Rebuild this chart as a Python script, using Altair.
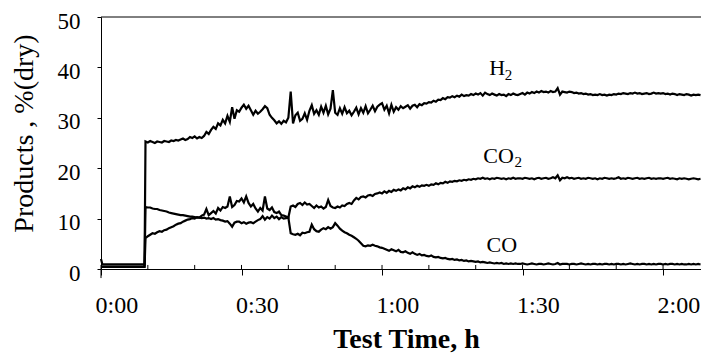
import altair as alt
import pandas as pd

# ---- data (time in minutes, values in % dry) ----
X_MAX = 128.1
T_PRE = [0.0, 0.3, 3.0, 6.0, 9.3]
H2_PRE = [2.0, 0.9, 0.9, 0.9, 0.9]
CO2_PRE = [0.4, 0.4, 0.4, 0.4, 0.4]
CO_PRE = [0.5, 0.5, 0.5, 0.5, 0.5]
T_START = 9.5
T_STEP = 0.5

H2_MAIN = [
    25.3, 25.1, 25.4, 25.2, 25.0, 25.3, 25.2, 25.1, 25.4, 25.3, 25.2, 25.5, 25.4, 25.6, 25.5, 25.7, 25.9, 25.6, 25.8, 26.2,
    26.0, 26.3, 25.9, 26.2, 26.0, 26.4, 27.2, 26.8, 27.6, 28.2, 27.8, 28.9, 28.5, 29.6, 28.9, 30.4, 29.2, 32.1, 29.8, 31.5,
    31.2, 32.0, 32.6, 31.8, 32.4, 31.5, 30.6, 31.4, 30.8, 31.2, 31.7, 32.3, 31.9, 30.6, 30.0, 29.5, 28.9, 29.3, 28.8, 29.4,
    29.1, 30.0, 35.2, 28.9, 30.5, 31.0, 29.4, 29.8, 30.9, 29.6, 31.4, 32.5, 30.8, 31.5, 30.6, 32.2, 31.0, 32.4, 30.7, 31.8,
    35.5, 31.0, 30.6, 31.9, 30.8, 32.1, 30.9, 31.4, 30.5, 31.2, 32.0, 30.7, 31.9, 31.0, 32.3, 30.9, 31.6, 32.4, 31.3, 32.2,
    32.6, 32.9, 31.6, 32.4, 30.9, 32.6, 31.2, 32.1, 31.6, 32.3, 31.9, 32.2, 32.5, 31.8, 32.4, 32.6, 32.1, 32.7, 32.5, 32.9,
    32.8, 33.1, 33.0, 33.4, 33.2, 33.6, 33.5, 33.9, 33.7, 34.1, 34.0, 34.3, 34.1, 34.4, 34.2, 34.6, 34.3, 34.5, 34.4, 34.7,
    34.5, 34.8, 34.6, 34.9, 34.4, 35.0, 34.7, 34.5, 34.8, 34.6, 34.4, 34.7, 34.5, 34.6, 34.3, 34.7, 34.5, 34.8, 34.6, 34.5,
    34.7, 34.9, 34.6, 35.0, 34.8, 35.1, 34.9, 35.2, 35.0, 35.3, 35.1, 35.2, 35.0, 35.3, 35.1, 35.2, 35.9, 34.6, 35.2, 35.1,
    35.0, 35.2, 35.1, 34.9, 35.0, 34.8, 34.9, 34.7, 34.8, 34.6, 34.7, 34.5, 34.6, 34.5, 34.7, 34.5, 34.6, 34.4, 34.6, 34.5,
    34.7, 34.6, 34.8, 34.7, 34.9, 34.8, 34.7, 34.9, 34.8, 35.0, 34.8, 34.9, 34.7, 34.8, 34.9, 34.7, 34.8, 35.0, 34.8, 34.9,
    34.8, 34.9, 34.7, 34.8, 34.6, 34.8, 34.7, 34.5, 34.7, 34.6, 34.5, 34.7, 34.6, 34.4, 34.6, 34.5, 34.6, 34.5,
]

CO2_MAIN = [
    6.1, 6.5, 6.8, 7.1, 7.0, 7.3, 7.5, 7.4, 7.7, 7.8, 8.1, 8.3, 8.5, 8.8, 9.0, 9.1, 9.4, 9.6, 9.8, 9.9,
    10.1, 10.0, 10.3, 10.2, 10.6, 10.8, 11.9, 10.7, 11.1, 11.5, 11.0, 12.1, 11.6, 12.3, 12.1, 12.4, 14.4, 12.3, 12.7, 13.5,
    13.4, 14.0, 13.2, 14.4, 13.1, 12.4, 12.9, 12.0, 11.4, 12.1, 11.6, 14.4, 12.0, 11.7, 12.2, 11.3, 11.1, 11.4, 10.7, 10.6,
    10.4, 10.2, 12.4, 12.6, 12.3, 12.9, 13.1, 12.7, 13.2, 12.8, 12.9, 12.5, 12.1, 12.6, 12.2, 12.4, 12.0, 12.3, 13.7, 12.5,
    12.2, 12.1, 12.4, 12.2, 12.6, 12.5, 12.9, 13.1, 12.9, 13.6, 14.1, 13.8, 14.3, 14.4, 14.2, 14.6, 14.7, 14.5, 14.9, 15.0,
    15.2, 15.0, 15.4, 15.1, 15.5, 15.3, 15.7, 15.5, 15.8, 15.6, 16.0, 15.8, 16.2, 16.0, 16.4, 16.2, 16.5, 16.3, 16.6, 16.5,
    16.7, 16.5, 16.8, 16.7, 17.0, 16.8, 17.1, 17.0, 17.3, 17.1, 17.4, 17.3, 17.5, 17.4, 17.6, 17.5, 17.7, 17.6, 17.8, 17.7,
    17.9, 17.8, 18.0, 17.9, 18.1, 17.9, 18.0, 17.8, 18.0, 17.9, 18.1, 18.0, 17.9, 18.0, 17.8, 18.0, 17.9, 18.1, 17.9, 18.0,
    18.0, 17.9, 18.1, 18.0, 17.9, 18.0, 17.8, 18.0, 18.1, 17.9, 18.0, 18.1, 17.9, 18.0, 18.2, 18.0, 18.6, 17.6, 18.1, 18.0,
    18.2, 18.0, 18.1, 17.9, 18.0, 18.1, 17.9, 18.0, 17.9, 18.1, 18.0, 17.9, 18.0, 17.8, 18.0, 17.9, 18.1, 18.0, 17.9, 18.0,
    17.9, 18.0, 18.2, 17.9, 18.0, 17.9, 18.1, 18.0, 17.9, 18.0, 18.1, 17.9, 18.0, 17.9, 18.0, 18.1, 17.9, 18.0, 17.9, 18.0,
    18.0, 17.9, 18.0, 18.1, 17.9, 18.0, 17.9, 17.8, 18.0, 17.9, 18.0, 17.9, 17.8, 17.9, 18.0, 17.9, 17.8, 17.9,
]

CO_MAIN = [
    12.3, 12.2, 12.2, 12.0, 11.9, 11.9, 11.7, 11.6, 11.5, 11.4, 11.2, 11.1, 11.0, 10.9, 10.8, 10.7, 10.7, 10.6, 10.5, 10.4,
    10.4, 10.3, 10.2, 10.2, 10.1, 10.2, 10.0, 10.1, 9.9, 10.1, 9.8, 9.9, 9.7, 9.6, 9.4, 9.5, 9.0, 8.4, 9.2, 9.4,
    9.4, 9.1, 9.3, 9.0, 9.2, 9.3, 9.1, 9.4, 9.7, 9.9, 10.5, 9.8, 10.3, 10.0, 10.6, 10.1, 10.4, 9.9, 10.3, 10.0,
    10.1, 10.2, 7.1, 6.9, 6.8, 7.0, 6.7, 7.2, 7.1, 7.3, 7.4, 8.8, 7.9, 7.5, 7.4, 7.8, 8.1, 7.9, 8.3, 8.0,
    8.3, 9.1, 8.6, 8.0, 7.6, 7.3, 7.1, 6.8, 6.6, 6.3, 6.0, 5.6, 5.1, 4.6, 4.5, 4.7, 4.6, 4.8, 4.6, 4.5,
    4.3, 4.2, 4.0, 3.8, 3.6, 3.9, 3.7, 3.5, 3.8, 3.4, 3.3, 3.5, 3.2, 3.0, 3.3, 3.0, 2.8, 3.0, 2.7, 2.8,
    2.6, 2.5, 2.7, 2.4, 2.3, 2.4, 2.2, 2.1, 2.2, 2.0, 1.9, 2.0, 1.8, 1.9, 1.7, 1.8, 1.6, 1.7, 1.5, 1.6,
    1.5, 1.4, 1.5, 1.3, 1.4, 1.3, 1.2, 1.3, 1.2, 1.1, 1.2, 1.1, 1.2, 1.0, 1.1, 1.0, 1.1, 1.0, 1.1, 1.0,
    1.0, 1.1, 1.0, 0.9, 1.0, 1.1, 1.0, 0.9, 1.0, 1.0, 0.9, 1.0, 1.1, 1.0, 0.9, 1.0, 1.2, 0.9, 1.0, 1.0,
    1.0, 0.9, 1.0, 1.0, 0.9, 1.0, 1.1, 1.0, 0.9, 1.0, 0.9, 1.0, 1.0, 0.9, 1.0, 0.9, 1.0, 1.0, 0.9, 1.0,
    0.9, 1.0, 1.0, 0.9, 1.0, 0.9, 1.0, 1.1, 1.0, 0.9, 1.0, 0.9, 1.0, 1.0, 0.9, 1.0, 0.9, 1.0, 0.9, 1.0,
    1.0, 0.9, 1.0, 0.9, 1.0, 1.0, 0.9, 1.0, 0.9, 1.0, 0.9, 0.9, 1.0, 0.9, 1.0, 0.9, 1.0, 0.9,
]

LABEL_TEXT = ["H", "CO", "CO"]
LABEL_T = [82.9, 81.6, 82.3]
LABEL_V = [38.46, 20.98, 3.29]
SUB_TEXT = ["2", "2"]
SUB_T = [86.2, 88.3]
SUB_V = [37.47, 20.19]

MAJOR_TICKS = [0, 30, 60, 90, 120]
MINOR_TICKS = [0, 10, 20, 30, 40, 50, 60, 70, 80, 90, 100, 110, 120]
Y_TICKS = [0, 10, 20, 30, 40, 50]

FONT = "Liberation Serif"

rows = []
for name, pre, main in [("H2", H2_PRE, H2_MAIN), ("CO2", CO2_PRE, CO2_MAIN), ("CO", CO_PRE, CO_MAIN)]:
    for t, v in zip(T_PRE, pre):
        rows.append({"series": name, "t": t, "v": v})
    for i, v in enumerate(main):
        rows.append({"series": name, "t": T_START + T_STEP * i, "v": v})
df = pd.DataFrame(rows)

xscale = alt.Scale(domain=[0, X_MAX], nice=False, zero=False)
yscale = alt.Scale(domain=[0, 50], nice=False)

X_AXIS = alt.Axis(
    values=MAJOR_TICKS,
    labelExpr="floor(datum.value/60) + ':' + ((datum.value % 60) < 10 ? '0' : '') + (datum.value % 60)",
    tickSize=6, tickColor="black", domainColor="black", grid=False,
    labelFont=FONT, labelFontSize=24, labelColor="black",
    labelAlign="left", labelOffset=-6, labelBaseline="alphabetic", labelPadding=37,
    title="Test Time, h", titleFont=FONT, titleFontSize=28, titleFontWeight="bold",
    titleColor="black", titleAlign="center", titleBaseline="alphabetic",
    titleX=305, titleY=78,
)
Y_AXIS = alt.Axis(
    values=Y_TICKS, tickSize=4, tickColor="black", domainColor="black", grid=False,
    labelFont=FONT, labelFontSize=23, labelColor="black", labelPadding=17,
    labelBaseline="middle", labelOffset=4,
    title="Products , %(dry)", titleFont=FONT, titleFontSize=28, titleFontWeight="normal",
    titleColor="black", titleAngle=270, titleAlign="center", titleBaseline="alphabetic",
    titleX=-69, titleY=116,
)

lines = alt.Chart(df).mark_line(color="black", strokeWidth=2.2, interpolate="linear").encode(
    x=alt.X("t:Q", scale=xscale, axis=X_AXIS),
    y=alt.Y("v:Q", scale=yscale, axis=Y_AXIS),
    detail="series:N",
)

minor = alt.Chart(pd.DataFrame({"t": MINOR_TICKS})).mark_rule(color="black", strokeWidth=1).encode(
    x=alt.X("t:Q", scale=xscale, axis=X_AXIS),
    y=alt.datum(0, scale=yscale, axis=Y_AXIS),
    y2=alt.datum(0.8),
)

top_border = alt.Chart(pd.DataFrame({"a": [0]})).mark_rule(color="black", strokeWidth=1).encode(
    x=alt.datum(0, scale=xscale, axis=X_AXIS),
    x2=alt.datum(X_MAX),
    y=alt.datum(50, scale=yscale, axis=Y_AXIS),
)

left_ext = alt.Chart(pd.DataFrame({"a": [0]})).mark_rule(color="black", strokeWidth=1).encode(
    x=alt.datum(0, scale=xscale, axis=X_AXIS),
    y=alt.datum(0, scale=yscale, axis=Y_AXIS),
    y2=alt.datum(-1.8),
)

lab_df = pd.DataFrame({"txt": LABEL_TEXT, "t": LABEL_T, "v": LABEL_V})
labels = alt.Chart(lab_df).mark_text(font=FONT, fontSize=22, align="left", baseline="alphabetic", color="black").encode(
    x=alt.X("t:Q", scale=xscale, axis=X_AXIS),
    y=alt.Y("v:Q", scale=yscale, axis=Y_AXIS),
    text="txt:N",
)

sub_df = pd.DataFrame({"txt": SUB_TEXT, "t": SUB_T, "v": SUB_V})
subs = alt.Chart(sub_df).mark_text(font=FONT, fontSize=15, align="left", baseline="alphabetic", color="black").encode(
    x=alt.X("t:Q", scale=xscale, axis=X_AXIS),
    y=alt.Y("v:Q", scale=yscale, axis=Y_AXIS),
    text="txt:N",
)

chart = alt.layer(lines, minor, top_border, left_ext, labels, subs).properties(
    width=600, height=252,
    autosize=alt.AutoSizeParams(type="none"),
    padding={"left": 101, "top": 17, "right": 0, "bottom": 85},
    background="white",
).configure_view(stroke=None)

chart.save("out.html", embed_options={"renderer": "svg", "actions": False})
